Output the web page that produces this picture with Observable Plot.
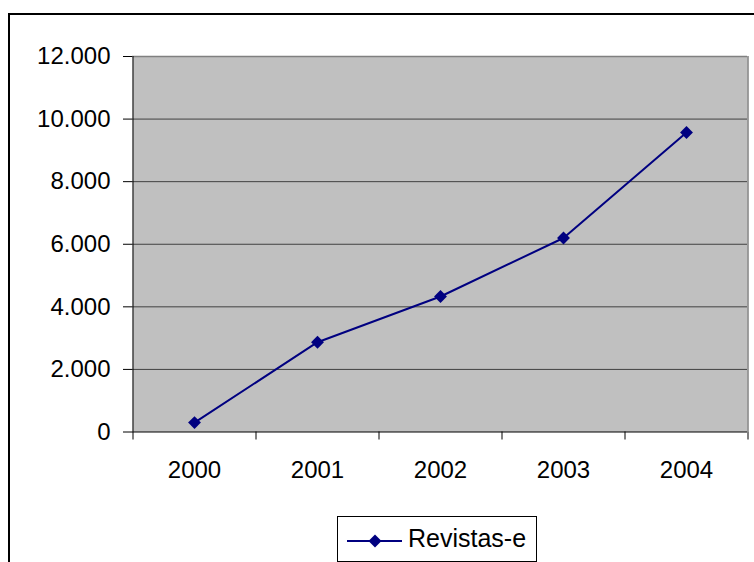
<!DOCTYPE html>
<html>
<head>
<meta charset="utf-8">
<script src="https://cdn.jsdelivr.net/npm/d3@7"></script>
<script src="https://cdn.jsdelivr.net/npm/@observablehq/plot@0.6"></script>
<style>
  html, body { margin: 0; padding: 0; background: #fff; overflow: hidden; }
  #wrap { position: relative; width: 754px; height: 562px; overflow: hidden; font-family: "Liberation Sans", Arial, sans-serif; }
  #border { position: absolute; left: 8px; top: 13px; width: 800px; height: 600px; border: 2px solid #000; box-sizing: border-box; }
  #chart { position: absolute; left: 0; top: 0; }
  #legend { position: absolute; left: 337px; top: 516px; width: 200px; height: 46px; border: 1px solid #000; box-sizing: border-box; background: #fff; }
  #legend svg { position: absolute; left: 0; top: 0; }
  #legend span { position: absolute; left: 70px; top: 7px; font-size: 25px; line-height: 28px; color: #000; white-space: nowrap; }
</style>
</head>
<body>
<div id="wrap">
  <div id="border"></div>
  <div id="chart"></div>
  <div id="legend"></div>
</div>
<script>
// Data
const years = ["2000", "2001", "2002", "2003", "2004"];
const revistas = [300, 2870, 4330, 6200, 9570];
const yTicks = [0, 2000, 4000, 6000, 8000, 10000, 12000];
const seriesName = "Revistas-e";

const rows = years.map((y, i) => ({year: y, value: revistas[i]}));

const loc = d3.formatLocale({decimal: ",", thousands: ".", grouping: [3], currency: ["", ""]});
const fmt = loc.format(",d");

const W = 754, H = 500, mL = 132, mR = 7, mT = 56, mB = 68.5;
const half = (W - mL - mR) / years.length / 2;
const navy = "#000080";

const chart = Plot.plot({
  width: W, height: H,
  marginLeft: mL, marginRight: mR, marginTop: mT, marginBottom: mB,
  style: {fontFamily: "'Liberation Sans', Arial, sans-serif", fontSize: "24px", color: "#000", background: "transparent", overflow: "visible"},
  x: {type: "point", domain: years, padding: 0.5},
  y: {domain: [yTicks[0], yTicks[yTicks.length - 1]]},
  marks: [
    Plot.frame({fill: "#c0c0c0", stroke: null}),
    Plot.ruleY(yTicks.slice(1, -1), {stroke: "#404040", strokeWidth: 1}),
    Plot.ruleY([yTicks[yTicks.length - 1]], {stroke: "#808080", strokeWidth: 1.5}),
    Plot.ruleX([years[years.length - 1]], {dx: half, stroke: "#808080", strokeWidth: 1.5}),
    Plot.ruleX([years[0]], {dx: -half, stroke: "#000", strokeWidth: 1}),
    Plot.ruleY([0], {stroke: "#000", strokeWidth: 1}),
    Plot.axisY({ticks: yTicks, tickSize: 9, tickPadding: 13, tickFormat: fmt, fontSize: 24, label: null}),
    Plot.axisX({ticks: years, tickSize: 8, dx: -half, tickFormat: () => "", label: null}),
    Plot.axisX({ticks: [years[years.length - 1]], tickSize: 8, dx: half, tickFormat: () => "", label: null}),
    Plot.axisX({ticks: years, tickSize: 0, tickPadding: 29, fontSize: 24, label: null}),
    Plot.line(rows, {x: "year", y: "value", stroke: navy, strokeWidth: 2}),
    Plot.dot(rows, {x: "year", y: "value", symbol: "diamond2", r: 5.8, fill: navy, stroke: null})
  ]
});
document.getElementById("chart").appendChild(chart);

// Legend
const lg = document.getElementById("legend");
lg.innerHTML = `<svg width="70" height="46"><line x1="9" y1="24" x2="64" y2="24" stroke="${navy}" stroke-width="2"/><path d="M37,17.5L43.5,24L37,30.5L30.5,24Z" fill="${navy}"/></svg><span>${seriesName}</span>`;
</script>
</body>
</html>
